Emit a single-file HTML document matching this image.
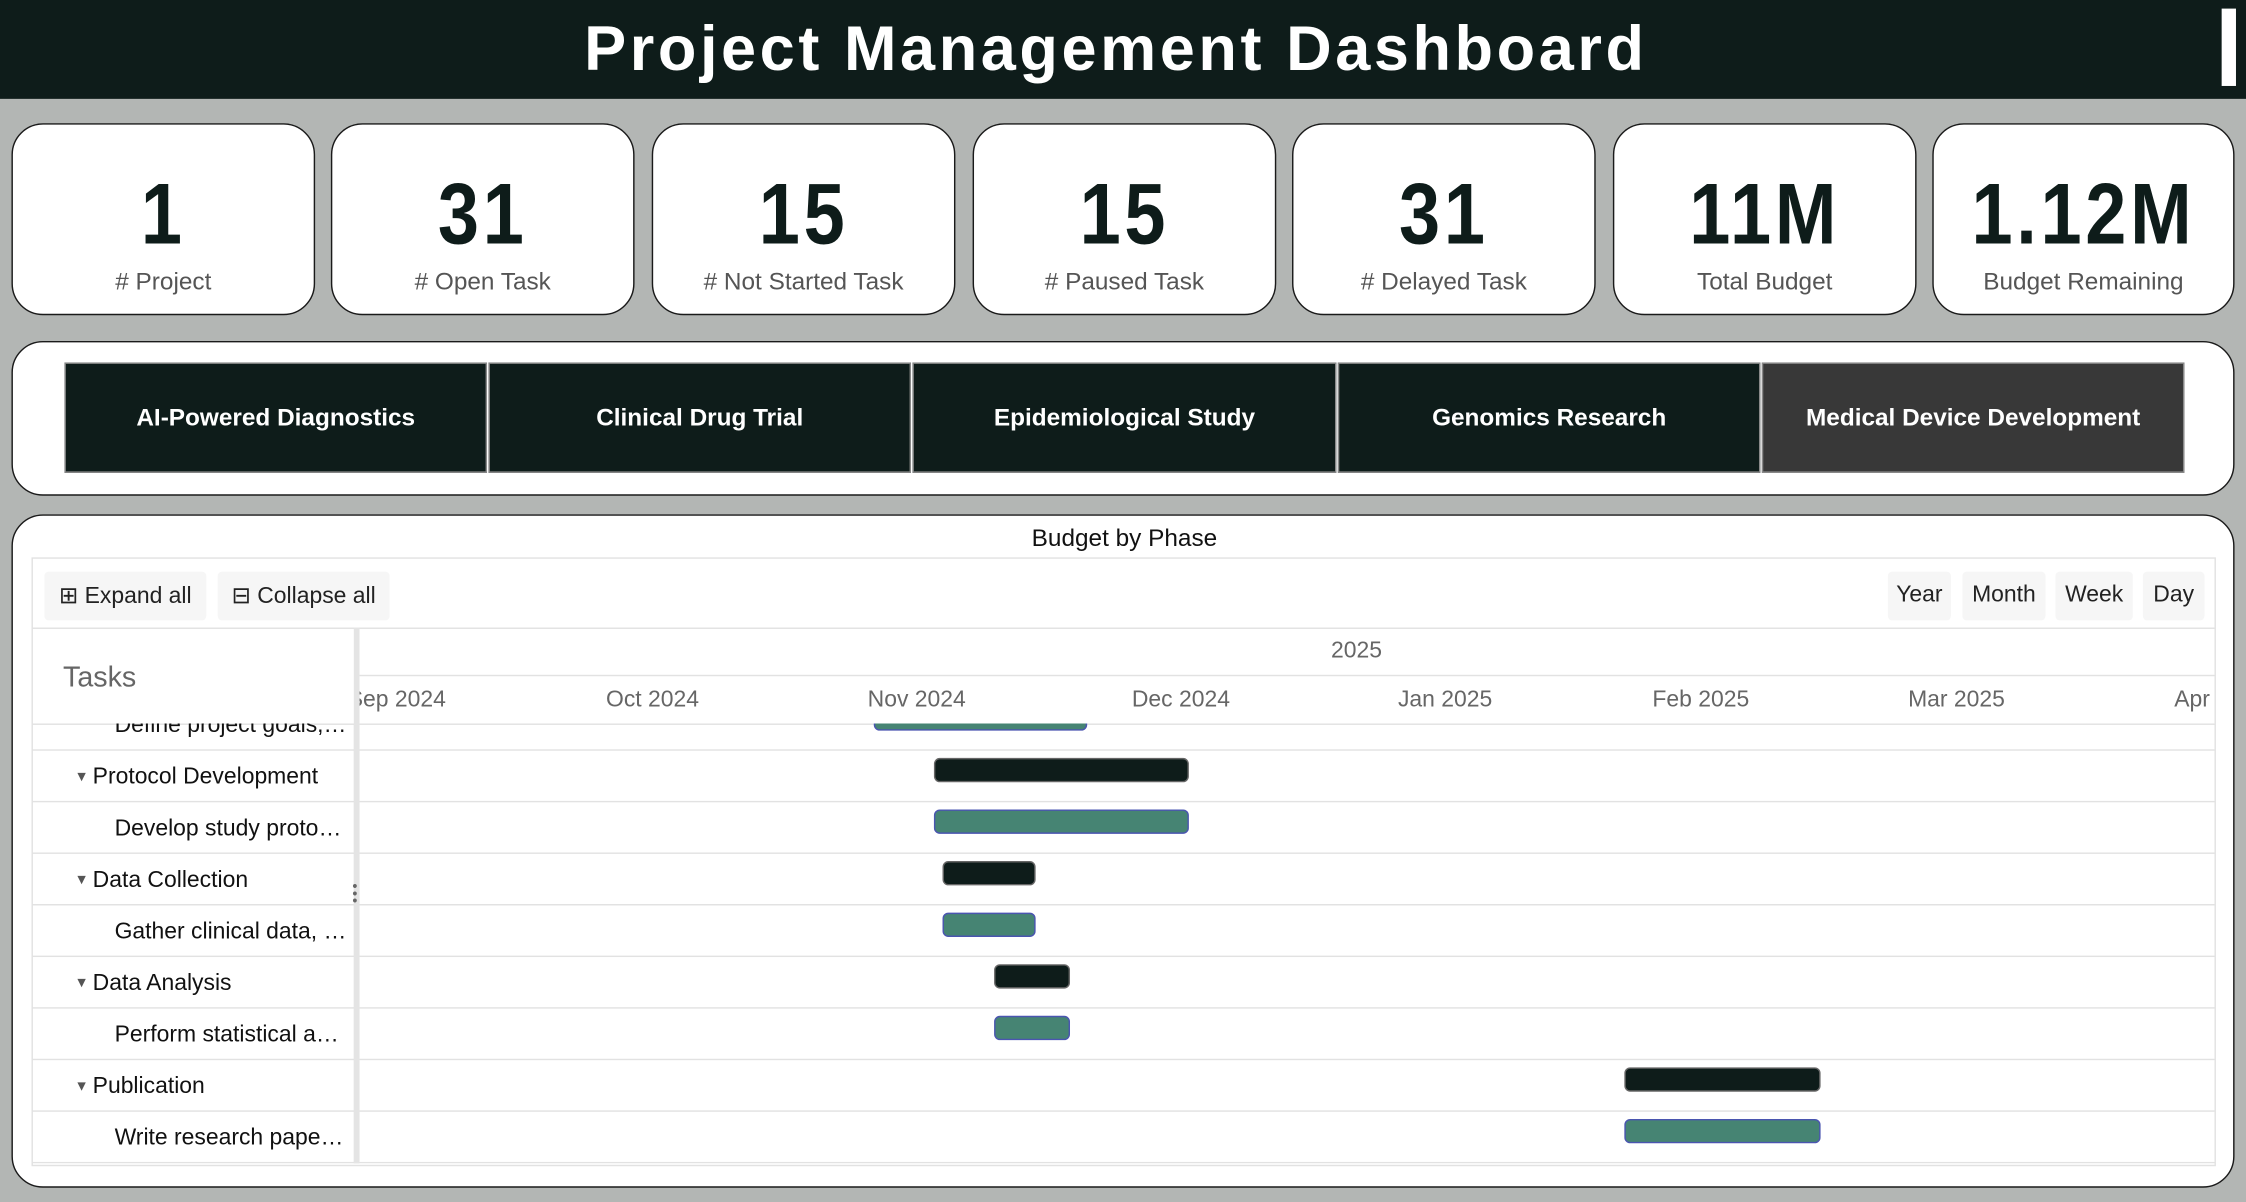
<!DOCTYPE html>
<html><head><meta charset="utf-8">
<style>
html,body{margin:0;padding:0;width:2246px;height:1202px;overflow:hidden;background:#b3b6b4;font-family:"Liberation Sans",sans-serif}
#s{position:absolute;left:0;top:0;width:1568px;height:839px;transform:scale(1.4324,1.4327);transform-origin:0 0}
.abs{position:absolute}
.hdr{left:0;top:0;width:1568px;height:69px;background:#0e1c1a}
.title{left:0;width:1558px;top:10px;text-align:center;color:#fff;font-weight:bold;font-size:44px;letter-spacing:2.5px}
.card{background:#fff;border:1.5px solid #1a1a1a;border-radius:22px;box-sizing:border-box}
.num{position:absolute;left:0;right:0;top:28px;text-align:center;font-size:60px;font-weight:bold;color:#0e1c1a;letter-spacing:3px;transform:scaleX(0.86)}
.lbl{position:absolute;left:0;right:0;top:100px;text-align:center;font-size:17px;color:#555}
.btn{background:#0e1c1a;color:#fff;font-weight:bold;font-size:17px;display:flex;align-items:center;justify-content:center;border:1px solid #888;box-sizing:border-box}
.tb{background:#f6f6f6;font-size:16px;color:#222;display:flex;align-items:center;justify-content:center;border-radius:3px}
.hl{height:1px;background:#e2e2e2}
.task{font-size:16px;color:#111;white-space:nowrap}
.mon{font-size:16px;color:#666;transform:translateX(-50%);white-space:nowrap}
</style></head><body>
<div id="s">
<div class="abs hdr"></div>
<div class="abs title">Project Management Dashboard</div>
<div class="abs" style="left:1551px;top:6px;width:10px;height:54px;background:#fff"></div>

<div class="abs card" style="left:8px;top:86px;width:212px;height:134px"><div class="num">1</div><div class="lbl"># Project</div></div>
<div class="abs card" style="left:231px;top:86px;width:212px;height:134px"><div class="num">31</div><div class="lbl"># Open Task</div></div>
<div class="abs card" style="left:455px;top:86px;width:212px;height:134px"><div class="num">15</div><div class="lbl"># Not Started Task</div></div>
<div class="abs card" style="left:679px;top:86px;width:212px;height:134px"><div class="num">15</div><div class="lbl"># Paused Task</div></div>
<div class="abs card" style="left:902px;top:86px;width:212px;height:134px"><div class="num">31</div><div class="lbl"># Delayed Task</div></div>
<div class="abs card" style="left:1126px;top:86px;width:212px;height:134px"><div class="num">11M</div><div class="lbl">Total Budget</div></div>
<div class="abs card" style="left:1349px;top:86px;width:211px;height:134px"><div class="num">1.12M</div><div class="lbl">Budget Remaining</div></div>

<div class="abs card" style="left:8px;top:238px;width:1552px;height:108px"></div>
<div class="abs btn" style="left:45px;top:253px;width:295px;height:77px">AI-Powered Diagnostics</div>
<div class="abs btn" style="left:341px;top:253px;width:295px;height:77px">Clinical Drug Trial</div>
<div class="abs btn" style="left:637px;top:253px;width:296px;height:77px">Epidemiological Study</div>
<div class="abs btn" style="left:934px;top:253px;width:295px;height:77px">Genomics Research</div>
<div class="abs btn" style="left:1230px;top:253px;width:295px;height:77px;background:#383838">Medical Device Development</div>

<div class="abs card" style="left:8px;top:359px;width:1552px;height:470px"></div>
<div class="abs" style="left:0;width:1570px;top:366px;text-align:center;font-size:17px;color:#111">Budget by Phase</div>
<div class="abs" style="left:22px;top:389px;width:1523px;height:423px;border:1px solid #e2e2e2"></div>
<div class="abs tb" style="left:31px;top:399px;width:113px;height:34px">⊞&nbsp;Expand all</div>
<div class="abs tb" style="left:152px;top:399px;width:120px;height:34px">⊟&nbsp;Collapse all</div>
<div class="abs tb" style="left:1318px;top:399px;width:44px;height:34px">Year</div>
<div class="abs tb" style="left:1370px;top:399px;width:58px;height:34px">Month</div>
<div class="abs tb" style="left:1435px;top:399px;width:54px;height:34px">Week</div>
<div class="abs tb" style="left:1496px;top:399px;width:43px;height:34px">Day</div>
<div class="abs hl" style="left:22px;top:438px;width:1524px"></div>
<div class="abs hl" style="left:251px;top:471px;width:1295px"></div>
<div class="abs hl" style="left:22px;top:505px;width:1524px"></div>
<div class="abs" style="left:44px;top:462px;font-size:20px;color:#666">Tasks</div>
<div class="abs" style="left:947px;top:446px;font-size:16px;color:#666;transform:translateX(-50%)">2025</div>
<div class="abs" style="left:247px;top:438px;width:4px;height:374px;background:#e4e4e4"></div>
<div id="timeline" class="abs" style="left:251px;top:471px;width:1295px;height:341px;overflow:hidden"></div>
<div id="rows" class="abs" style="left:22px;top:505px;width:1524px;height:307px;overflow:hidden"></div>
<div class="abs" style="left:246px;top:617px;font-size:10px;line-height:5px;color:#666">•<br>•<br>•</div>
</div>
<script>
const monthLabels=["Sep 2024","Oct 2024","Nov 2024","Dec 2024","Jan 2025","Feb 2025","Mar 2025","Apr 2025"];
const monthMids=["2024-09-15","2024-10-15","2024-11-15","2024-12-16","2025-01-16","2025-02-15","2025-03-17","2025-04-17"];
const taskNames=["Define project goals, identify stakeholders","Protocol Development","Develop study protocol and documents","Data Collection","Gather clinical data, conduct trials","Data Analysis","Perform statistical analysis","Publication","Write research papers and reports"];
const isParent=[false,true,false,true,false,true,false,true,false];
const startDates=["2024-11-10","2024-11-17","2024-11-17","2024-11-18","2024-11-18","2024-11-24","2024-11-24","2025-02-06","2025-02-06"];
const endDates=["2024-12-05","2024-12-17","2024-12-17","2024-11-29","2024-11-29","2024-12-03","2024-12-03","2025-03-01","2025-03-01"];

const ORIGIN=new Date("2024-11-15").getTime(), PXDAY=5.95, X0=640-251;
function x(d){return X0+(new Date(d).getTime()-ORIGIN)/864e5*PXDAY;}
const tl=document.getElementById('timeline');
monthLabels.forEach((m,i)=>{
  const e=document.createElement('div');
  e.className='abs mon';
  e.style.left=x(monthMids[i])+'px';e.style.top='9px';
  e.textContent=m;
  
  
  tl.appendChild(e);
});
const rows=document.getElementById('rows');
const ROWH=36, TOP0=-18;
taskNames.forEach((t,i)=>{
  const y=TOP0+i*ROWH;
  const line=document.createElement('div');
  line.className='abs hl';line.style.left='0';line.style.width='1524px';line.style.top=(y+ROWH)+'px';
  rows.appendChild(line);
  const lab=document.createElement('div');
  lab.className='abs task';
  lab.style.top=(y+11)+'px';
  lab.style.left=(isParent[i]?46:58)+'px';
  lab.style.width=(isParent[i]?175:165)+'px';
  lab.style.overflow='hidden';lab.style.textOverflow='ellipsis';
  lab.textContent=t;
  if(isParent[i]){const tri=document.createElement('span');tri.textContent='▼ ';tri.style.fontSize='10px';tri.style.color='#555';tri.style.verticalAlign='2px';lab.prepend(tri);lab.style.left='30px';}
  
  
  rows.appendChild(lab);
  const b=document.createElement('div');
  const x1=x(startDates[i]),x2=x(endDates[i]);
  b.className='abs';
  b.style.left=(229+x1)+'px';b.style.width=(x2-x1)+'px';
  b.style.top=(y+6)+'px';b.style.height='17px';b.style.boxSizing='border-box';b.style.borderRadius='4px';
  b.style.background=isParent[i]?'#0e1c1a':'#468473';
  b.style.border=isParent[i]?'1px solid #666':'1px solid #4a55b0';
  
  
  rows.appendChild(b);
});
const splitCover=document.createElement('div');
splitCover.className='abs';splitCover.style.left='225px';splitCover.style.top='0';splitCover.style.width='4px';splitCover.style.height='307px';splitCover.style.background='#e4e4e4';
rows.appendChild(splitCover);
</script>
</body></html>
